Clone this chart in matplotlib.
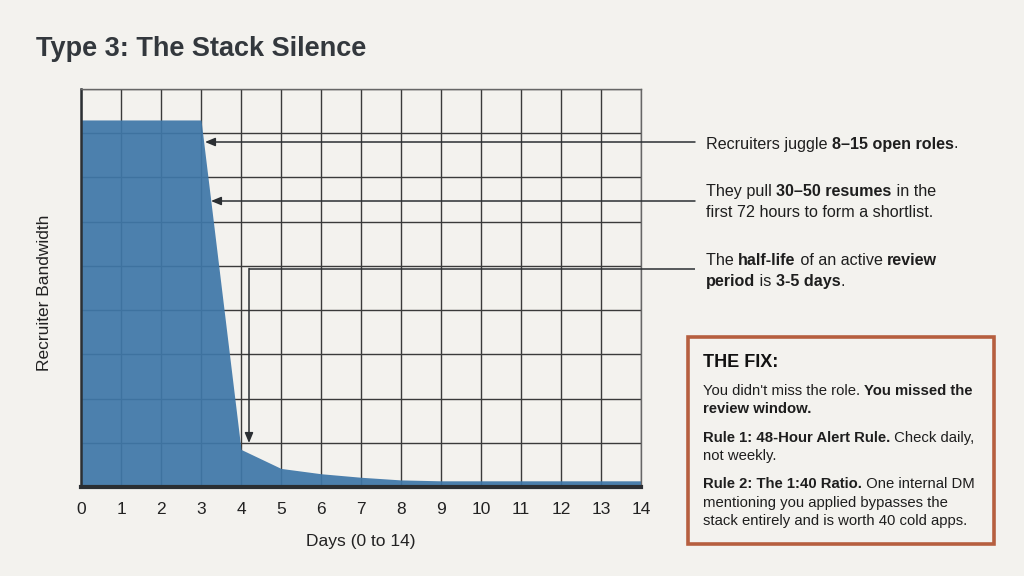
import matplotlib
matplotlib.use("Agg")
import matplotlib.pyplot as plt
from matplotlib.patches import Rectangle

# ---------------- data ----------------
days = [0, 1, 2, 3, 4, 5, 6, 7, 8, 9, 10, 11, 12, 13, 14]
bandwidth = [83, 83, 83, 83, 8.5, 4.2, 3.0, 2.2, 1.6, 1.4, 1.4, 1.4, 1.4, 1.4, 1.4]
x_ticks = list(range(0, 15))
y_grid = list(range(0, 91, 10))

title = "Type 3: The Stack Silence"
x_label = "Days (0 to 14)"
y_label = "Recruiter Bandwidth"

note1 = [[("Recruiters juggle ", False), ("8\u201315 open roles", True), (".", False)]]
note2 = [[("They pull ", False), ("30\u201350 resumes", True), (" in the", False)],
         [("first 72 hours to form a shortlist.", False)]]
note3 = [[("The ", False), ("half-life", True), (" of an active ", False), ("review", True)],
         [("period", True), (" is ", False), ("3-5 days", True), (".", False)]]
fix_title = "THE FIX:"
fix_paras = [
    [[("You didn't miss the role. ", False), ("You missed the", True)],
     [("review window.", True)]],
    [[("Rule 1: 48-Hour Alert Rule.", True), (" Check daily,", False)],
     [("not weekly.", False)]],
    [[("Rule 2: The 1:40 Ratio.", True), (" One internal DM", False)],
     [("mentioning you applied bypasses the", False)],
     [("stack entirely and is worth 40 cold apps.", False)]],
]

# ---------------- style ----------------
BG = "#f3f2ee"
FILL = "#3f77a8"
GRID = "#3a3a3a"
DARK = "#2b2f33"
BORDER = "#b65f3f"
FONT = ["Liberation Sans", "DejaVu Sans"]
plt.rcParams["font.family"] = FONT

W, H = 1024, 576
fig = plt.figure(figsize=(W / 100, H / 100), dpi=100, facecolor=BG)

def fx(px):
    return px / W

def fy(py):
    return 1 - py / H

L, R, T, B = 81, 641, 89, 487
ax = fig.add_axes([fx(L), fy(B), fx(R - L), fy(T) - fy(B)])
ax.set_facecolor(BG)
ax.set_xlim(0, 14)
ax.set_ylim(0, 90)

ax.set_xticks(x_ticks)
ax.set_yticks(y_grid)
ax.set_yticklabels([])
ax.tick_params(axis="y", length=0)
ax.tick_params(axis="x", length=0, pad=11, labelsize=12.5, labelcolor="#222222")
ax.grid(True, color=GRID, linewidth=1.0, zorder=1)
ax.set_axisbelow(True)

ax.fill_between(days, bandwidth, 0, color=FILL, alpha=0.93, linewidth=0, zorder=2)

for s in ["top", "right"]:
    ax.spines[s].set_color("#666666")
    ax.spines[s].set_linewidth(1.0)
ax.spines["left"].set_color(DARK)
ax.spines["left"].set_linewidth(1.8)
ax.spines["bottom"].set_color(DARK)
ax.spines["bottom"].set_linewidth(3.0)
ax.spines["bottom"].set_zorder(5)

ax.set_xlabel(x_label, fontsize=12.5, color="#222222", labelpad=12)
fig.text(fx(45), fy(293), y_label, rotation=90, ha="center", va="center",
         fontsize=12.5, color="#222222")

fig.text(fx(36), fy(49), title, fontsize=19.5, fontweight="bold",
         color="#33383d", ha="left", va="center")

# ---------------- annotations ----------------
def px_to_data(px, py):
    dx = (px - L) / (R - L) * 14
    dy = (B - py) / (B - T) * 90
    return dx, dy

arrow_kw = dict(arrowstyle="-|>,head_length=0.6,head_width=0.25", color=DARK, lw=1.1,
                shrinkA=0, shrinkB=0)

line_end = 695
for (hx, hy) in [(205, 142), (211, 201)]:
    ax.annotate("", xy=px_to_data(hx, hy), xytext=px_to_data(line_end, hy),
                arrowprops=arrow_kw, annotation_clip=False, zorder=6)

ex, ey = 249, 268.5
x0, y0 = px_to_data(ex, ey)
x1, _ = px_to_data(line_end, ey)
ax.plot([x1, x0], [y0, y0], color=DARK, lw=1.1, zorder=6, clip_on=False,
        solid_capstyle="butt")
ax.annotate("", xy=px_to_data(ex, 443), xytext=(x0, y0),
            arrowprops=arrow_kw, annotation_clip=False, zorder=6)

# ---------------- rich text helper ----------------
renderer = fig.canvas.get_renderer()

def seg_width(text, bold, size):
    w_kw = "bold" if bold else "normal"
    t = fig.text(0, 0, "|" + text + "|", fontsize=size, fontweight=w_kw)
    w = t.get_window_extent(renderer).width
    t.remove()
    t2 = fig.text(0, 0, "||", fontsize=size, fontweight=w_kw)
    w2 = t2.get_window_extent(renderer).width
    t2.remove()
    return w - w2

def rich_line(x, y, segs, size, color="#1e1e1e"):
    cx = x
    for text, bold in segs:
        fig.text(fx(cx), fy(y), text, fontsize=size,
                 fontweight="bold" if bold else "normal",
                 ha="left", va="baseline", color=color)
        cx += seg_width(text, bold, size)

TX = 706
rich_line(TX, 148.5, note1[0], 11.6)
for i, ln in enumerate(note2):
    rich_line(TX, 196 + i * 21, ln, 11.6)
for i, ln in enumerate(note3):
    rich_line(TX, 265 + i * 21, ln, 11.6)

# ---------------- fix box ----------------
fig.patches.append(Rectangle((fx(688), fy(544)), fx(994 - 688), fy(337) - fy(544),
                             transform=fig.transFigure, facecolor="none",
                             edgecolor=BORDER, linewidth=2.6, zorder=3))
fig.text(fx(703), fy(367), fix_title, fontsize=13, fontweight="bold",
         ha="left", va="baseline", color="#111111")
starts = [395, 442, 488.5]
for start, para in zip(starts, fix_paras):
    for i, ln in enumerate(para):
        rich_line(703, start + i * 18, ln, 10.7)

fig.savefig("out.png", dpi=100, facecolor=BG)
